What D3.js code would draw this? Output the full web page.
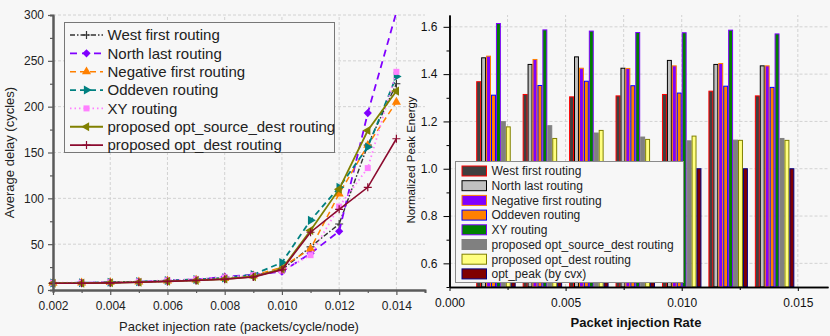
<!DOCTYPE html>
<html>
<head>
<meta charset="utf-8">
<script src="https://d3js.org/d3.v7.min.js"></script>
<style>
  body { margin: 0; background: #f7f7f7; }
  svg { display: block; font-family: "Liberation Sans", Arial, sans-serif; }
</style>
</head>
<body>
<div id="chart"></div>
<script>
  // ---- left panel data: average delay (cycles) ----
  const rates = [0.002, 0.003, 0.004, 0.005, 0.006, 0.007, 0.008, 0.009, 0.010, 0.011, 0.012, 0.013, 0.014];
  const delayWestFirst = [7.5, 7.6, 8.0, 8.6, 9.6, 10.6, 12.2, 14.8, 22, 47, 72, 158, 225];
  const delayNorthLast = [7.8, 7.9, 8.3, 9.0, 10.2, 11.4, 14.5, 16.5, 20, 40, 64, 193, 303];
  const delayNegFirst = [7.6, 7.8, 8.2, 8.9, 10.0, 11.0, 12.8, 15.5, 25, 45, 105, 158, 205];
  const delayOddeven = [7.7, 7.9, 8.4, 9.1, 10.3, 11.5, 13.2, 16.8, 30, 76, 112, 156, 233];
  const delayXY = [7.9, 8.1, 8.5, 9.3, 10.5, 11.8, 13.8, 16.2, 21, 38, 91, 133, 238];
  const delayOptSourceDest = [7.4, 7.5, 7.9, 8.5, 9.5, 10.5, 12.0, 14.5, 23, 65, 110, 174, 217];
  const delayOptDest = [7.3, 7.4, 7.8, 8.4, 9.4, 10.4, 11.8, 14.2, 22, 63, 88, 112, 165];
  const delayNames = ["West first routing", "North last routing", "Negative first routing", "Oddeven routing",
                      "XY routing", "proposed opt_source_dest routing", "proposed opt_dest routing"];
  const delayXTicks = [0.002, 0.004, 0.006, 0.008, 0.010, 0.012, 0.014];
  const delayXMinor = [0.003, 0.005, 0.007, 0.009, 0.011, 0.013, 0.015];
  const delayYTicks = [0, 50, 100, 150, 200, 250, 300];
  const delayYMinor = [25, 75, 125, 175, 225, 275];

  // ---- right panel data: normalized peak energy ----
  const energyRates = [0.002, 0.004, 0.006, 0.008, 0.010, 0.012, 0.014];
  const energyWestFirst = [1.368, 1.314, 1.304, 1.308, 1.314, 1.328, 1.308];
  const energyNorthLast = [1.469, 1.441, 1.473, 1.425, 1.458, 1.441, 1.435];
  const energyNegFirst = [1.476, 1.462, 1.425, 1.424, 1.435, 1.445, 1.435];
  const energyOddeven = [1.311, 1.352, 1.370, 1.351, 1.320, 1.349, 1.344];
  const energyXY = [1.614, 1.587, 1.582, 1.576, 1.575, 1.586, 1.570];
  const energyOptSourceDest = [1.199, 1.182, 1.151, 1.134, 1.118, 1.121, 1.128];
  const energyOptDest = [1.177, 1.128, 1.162, 1.124, 1.138, 1.120, 1.120];
  const energyOptPeak = [1.0, 1.0, 1.0, 1.0, 1.0, 1.0, 1.0];
  const energyNames = ["West first routing", "North last routing", "Negative first routing", "Oddeven routing",
                       "XY routing", "proposed opt_source_dest routing", "proposed opt_dest routing", "opt_peak (by cvx)"];
  const energyXTicks = [0.000, 0.005, 0.010, 0.015];
  const energyXMinor = [0.0025, 0.0075, 0.0125];
  const energyYTicks = [0.6, 0.8, 1.0, 1.2, 1.4, 1.6];
  const energyYMinor = [0.5, 0.7, 0.9, 1.1, 1.3, 1.5];

  const width = 830, height = 336;
  const bg = "#f7f7f7";
  const gridColor = "#d2d2d2";

  const svg = d3.select("#chart").append("svg")
    .attr("width", width)
    .attr("height", height);

  svg.append("rect").attr("width", width).attr("height", height).attr("fill", bg);

  // ================= left panel =================
  const x = d3.scaleLinear().domain([0.002, 0.015]).range([53, 425]);
  const y = d3.scaleLinear().domain([0, 300]).range([290, 15]);

  svg.append("clipPath").attr("id", "leftclip")
    .append("rect")
      .attr("x", 0).attr("y", y(300))
      .attr("width", x(0.015)).attr("height", y(0) - y(300) + 10);

  const left = svg.append("g");

  // grid
  left.append("g").selectAll("line")
    .data(delayXTicks.slice(1))
    .join("line")
      .attr("x1", d => x(d)).attr("x2", d => x(d))
      .attr("y1", y(0)).attr("y2", y(300))
      .attr("stroke", gridColor).attr("stroke-dasharray", "3,2");
  left.append("g").selectAll("line")
    .data(delayYTicks.slice(1))
    .join("line")
      .attr("x1", x(0.002)).attr("x2", x(0.015))
      .attr("y1", d => y(d)).attr("y2", d => y(d))
      .attr("stroke", gridColor).attr("stroke-dasharray", "3,2");

  const axisColor = "#5a5a5a";
  const styleAxis = (g, w) => {
    g.select(".domain").attr("stroke", axisColor).attr("stroke-width", w);
    g.selectAll(".tick line").attr("stroke", axisColor).attr("stroke-width", 1.2);
    g.selectAll(".tick text").attr("fill", "#222").style("font-family", "Liberation Sans, Arial, sans-serif");
  };

  const delaySeries = [
    {name: delayNames[0], values: delayWestFirst, color: "#333333", dash: "5,2,1.5,2", width: 1.4, marker: "plus"},
    {name: delayNames[1], values: delayNorthLast, color: "#8000ff", dash: "7,5", width: 1.8, marker: "diamond"},
    {name: delayNames[2], values: delayNegFirst, color: "#ff8000", dash: "6,4", width: 1.5, marker: "up"},
    {name: delayNames[3], values: delayOddeven, color: "#008080", dash: "6,4", width: 1.8, marker: "right"},
    {name: delayNames[4], values: delayXY, color: "#ff80ff", dash: "1.5,3", width: 1.8, marker: "square"},
    {name: delayNames[5], values: delayOptSourceDest, color: "#808000", dash: null, width: 1.8, marker: "left"},
    {name: delayNames[6], values: delayOptDest, color: "#8b0a2e", dash: null, width: 1.6, marker: "plus"}
  ];

  const markerPath = type => {
    if (type === "plus") return "M-4,0H4M0,-4V4";
    if (type === "diamond") return d3.symbol(d3.symbolSquare, 34)();
    if (type === "square") return d3.symbol(d3.symbolSquare, 36)();
    return d3.symbol(d3.symbolTriangle, 36)();
  };
  const markerRotate = type => ({diamond: 45, right: 90, left: -90}[type] || 0);

  const drawMarker = (sel, s) => {
    sel.attr("d", markerPath(s.marker))
      .attr("fill", s.marker === "plus" ? "none" : s.color)
      .attr("stroke", s.marker === "plus" ? s.color : "none")
      .attr("stroke-width", 1.2);
  };

  const line = d3.line().x((d, i) => x(rates[i])).y(d => y(d));

  const plot = left.append("g").attr("clip-path", "url(#leftclip)");
  delaySeries.forEach(s => {
    const g = plot.append("g");
    g.append("path")
      .attr("d", line(s.values))
      .attr("fill", "none")
      .attr("stroke", s.color)
      .attr("stroke-width", s.width)
      .attr("stroke-dasharray", s.dash);
    g.selectAll("path.m")
      .data(s.values.filter(d => d <= 300))
      .join("path")
        .attr("class", "m")
        .attr("transform", (d, i) => `translate(${x(rates[i])},${y(d)}) rotate(${markerRotate(s.marker)})`)
        .call(drawMarker, s);
  });

  left.append("g")
    .attr("transform", `translate(0,${y(0)})`)
    .call(d3.axisBottom(x).tickValues(delayXMinor).tickSize(3).tickFormat(""))
    .call(g => styleAxis(g, 2));
  left.append("g")
    .attr("transform", `translate(0,${y(0)})`)
    .call(d3.axisBottom(x).tickValues(delayXTicks).tickSize(5).tickPadding(6).tickSizeOuter(0).tickFormat(d3.format(".3f")))
    .call(g => styleAxis(g, 2))
    .selectAll("text").style("font-size", "12px");
  left.append("g")
    .attr("transform", `translate(${x(0.002)},0)`)
    .call(d3.axisLeft(y).tickValues(delayYMinor).tickSize(3).tickFormat(""))
    .call(g => styleAxis(g, 2));
  left.append("g")
    .attr("transform", `translate(${x(0.002)},0)`)
    .call(d3.axisLeft(y).tickValues(delayYTicks).tickSize(5).tickPadding(4).tickSizeOuter(0))
    .call(g => styleAxis(g, 2))
    .selectAll("text").style("font-size", "12px");

  left.append("text")
    .attr("transform", `translate(14,${(y(0) + y(300)) / 2}) rotate(-90)`)
    .attr("text-anchor", "middle")
    .style("font-size", "13px")
    .attr("fill", "#222")
    .text("Average delay (cycles)");
  left.append("text")
    .attr("x", 239).attr("y", 331)
    .attr("text-anchor", "middle")
    .style("font-size", "13px")
    .attr("fill", "#222")
    .text("Packet injection rate (packets/cycle/node)");

  // left legend
  const leg = left.append("g");
  leg.append("rect")
    .attr("x", 64.5).attr("y", 22.5).attr("width", 270).attr("height", 130)
    .attr("fill", bg).attr("stroke", "#777");
  delaySeries.forEach((s, i) => {
    const cy = 35 + i * 18.35;
    leg.append("line")
      .attr("x1", 70).attr("x2", 103).attr("y1", cy).attr("y2", cy)
      .attr("stroke", s.color).attr("stroke-width", s.width)
      .attr("stroke-dasharray", s.dash);
    leg.append("path")
      .attr("transform", `translate(86.5,${cy}) rotate(${markerRotate(s.marker)})`)
      .call(drawMarker, s);
    leg.append("text")
      .attr("x", 107.5).attr("y", cy + 5.3)
      .style("font-size", "15px")
      .attr("fill", "#222")
      .text(s.name);
  });

  // ================= right panel =================
  const x2 = d3.scaleLinear().domain([0, 0.0163]).range([449.5, 828]);
  const y2 = d3.scaleLinear().domain([0.5, 1.65]).range([287, 15]);
  const right = svg.append("g");

  right.append("g").selectAll("line")
    .data(energyXMinor.concat(energyXTicks.slice(1)))
    .join("line")
      .attr("x1", d => x2(d)).attr("x2", d => x2(d))
      .attr("y1", y2(0.5)).attr("y2", y2(1.65))
      .attr("stroke", gridColor).attr("stroke-dasharray", "3,2");
  right.append("g").selectAll("line")
    .data(energyYTicks)
    .join("line")
      .attr("x1", x2(0)).attr("x2", x2(0.0163))
      .attr("y1", d => y2(d)).attr("y2", d => y2(d))
      .attr("stroke", gridColor).attr("stroke-dasharray", "3,2");

  const energySeries = [
    {name: energyNames[0], values: energyWestFirst, fill: "#404040", stroke: "#ff0000"},
    {name: energyNames[1], values: energyNorthLast, fill: "#c0c0c0", stroke: "#000000"},
    {name: energyNames[2], values: energyNegFirst, fill: "#8000ff", stroke: "#ff8000"},
    {name: energyNames[3], values: energyOddeven, fill: "#ff8000", stroke: "#0000ff"},
    {name: energyNames[4], values: energyXY, fill: "#008000", stroke: "#8000ff"},
    {name: energyNames[5], values: energyOptSourceDest, fill: "#808080", stroke: "#808080"},
    {name: energyNames[6], values: energyOptDest, fill: "#ffff80", stroke: "#808000"},
    {name: energyNames[7], values: energyOptPeak, fill: "#800000", stroke: "#000080"}
  ];

  const groupWidth = x2(0.0017) - x2(0);
  const xb = d3.scaleBand().domain(d3.range(energySeries.length)).range([-groupWidth / 2, groupWidth / 2]);

  energySeries.forEach((s, si) => {
    right.append("g").selectAll("rect")
      .data(s.values)
      .join("rect")
        .attr("x", (d, i) => x2(energyRates[i]) + xb(si) + 0.5)
        .attr("y", d => y2(d))
        .attr("width", xb.bandwidth() - 1)
        .attr("height", d => y2(0.5) - y2(d))
        .attr("fill", s.fill)
        .attr("stroke", s.stroke)
        .attr("stroke-width", 1);
  });

  const styleAxis2 = g => {
    g.select(".domain").attr("stroke", "#000").attr("stroke-width", 1.5);
    g.selectAll(".tick line").attr("stroke", "#000");
    g.selectAll(".tick text").attr("fill", "#111").style("font-family", "Liberation Sans, Arial, sans-serif");
  };

  right.append("g")
    .attr("transform", `translate(0,${y2(0.5)})`)
    .call(d3.axisBottom(x2).tickValues(energyXMinor).tickSize(3).tickFormat("").tickSizeOuter(0))
    .call(styleAxis2);
  right.append("g")
    .attr("transform", `translate(0,${y2(0.5)})`)
    .call(d3.axisBottom(x2).tickValues(energyXTicks).tickSize(4).tickPadding(7.5).tickSizeOuter(0).tickFormat(d3.format(".3f")))
    .call(styleAxis2)
    .selectAll("text").style("font-size", "12px");
  right.append("g")
    .attr("transform", `translate(${x2(0)},0)`)
    .call(d3.axisLeft(y2).tickValues(energyYMinor).tickSize(3).tickFormat("").tickSizeOuter(0))
    .call(styleAxis2);
  right.append("g")
    .attr("transform", `translate(${x2(0)},0)`)
    .call(d3.axisLeft(y2).tickValues(energyYTicks).tickSize(6).tickPadding(6).tickSizeOuter(0).tickFormat(d3.format(".1f")))
    .call(styleAxis2)
    .selectAll("text").style("font-size", "12px");

  right.append("text")
    .attr("transform", `translate(414.5,160) rotate(-90)`)
    .attr("text-anchor", "middle")
    .style("font-size", "11.5px")
    .attr("fill", "#111")
    .text("Normalized Peak Energy");
  right.append("text")
    .attr("x", 636).attr("y", 327)
    .attr("text-anchor", "middle")
    .style("font-size", "13px")
    .style("font-weight", "bold")
    .attr("fill", "#111")
    .text("Packet injection Rate");

  // right legend
  const leg2 = right.append("g");
  leg2.append("rect")
    .attr("x", 455.5).attr("y", 161.5).attr("width", 228).attr("height", 121)
    .attr("fill", bg).attr("stroke", "#8a8a8a");
  energySeries.forEach((s, i) => {
    const cy = 171 + i * 14.7;
    leg2.append("rect")
      .attr("x", 462).attr("y", cy - 5).attr("width", 24.5).attr("height", 10)
      .attr("fill", s.fill).attr("stroke", s.stroke).attr("stroke-width", 1);
    leg2.append("text")
      .attr("x", 491.5).attr("y", cy + 4.3)
      .style("font-size", "12px")
      .attr("fill", "#222")
      .text(s.name);
  });
</script>
</body>
</html>
